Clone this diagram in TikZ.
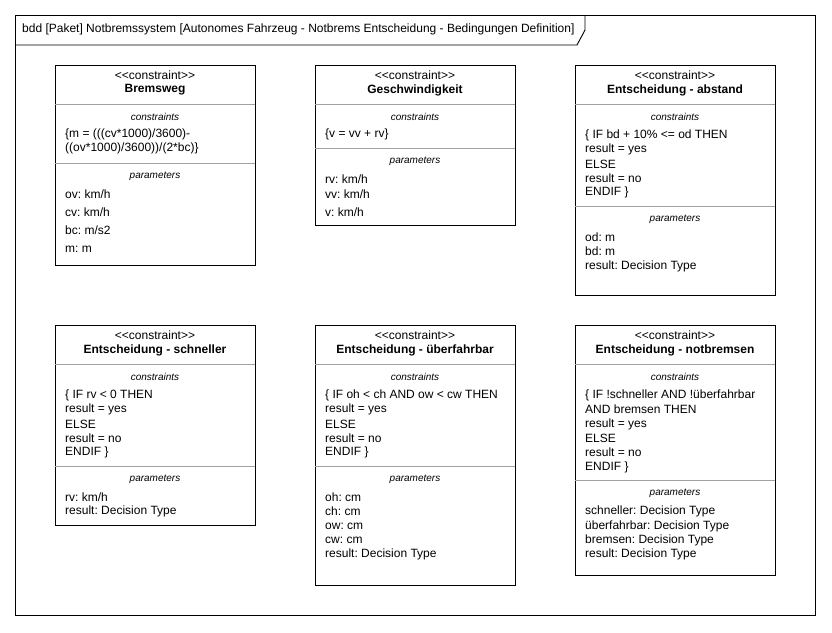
\documentclass[tikz,border=0pt]{standalone}
\usepackage{fontspec}
\setmainfont{Liberation Sans}
\frenchspacing
\begin{document}
\begin{tikzpicture}[x=1pt,y=-1pt,
  frame/.style={draw=black,line width=0.9pt},
  cbox/.style={draw=black,line width=0.9pt},
  divider/.style={draw=black!37,line width=0.9pt},
  txt/.style={anchor=west,inner sep=0pt,font=\fontsize{12}{14}\selectfont},
  stereo/.style={anchor=center,inner sep=0pt,font=\fontsize{12}{14}\selectfont},
  cname/.style={anchor=center,inner sep=0pt,font=\fontsize{12}{14}\selectfont\bfseries},
  sect/.style={anchor=center,inner sep=0pt,font=\fontsize{10}{12}\selectfont\itshape}]
\useasboundingbox (0,0) rectangle (832,632);
\fill[white] (0,0) rectangle (832,632);

% diagram frame with its name tab
\draw[frame] (15,15) rectangle (815,615);
\draw[frame] (15,45) -- (577,45) -- (585,30) -- (585,15);
\node[txt] (title) at (22,29) {bdd [Paket] Notbremssystem [Autonomes Fahrzeug - Notbrems Entscheidung - Bedingungen Definition]};

% ---------- Bremsweg ----------
\draw[cbox] (55,65) rectangle (255,265);
\draw[divider] (55,104) -- (255,104);
\draw[divider] (55,163) -- (255,163);
\node[stereo] (a0) at (155,75) {<{}<constraint>{}>};
\node[cname] (a1) at (155,90) {Bremsweg};
\node[sect] (a2) at (155,117) {constraints};
\node[txt] (a3) at (65,134) {\{m = (((cv*1000)/3600)-};
\node[txt] (a4) at (65,148) {((ov*1000)/3600))/(2*bc)\}};
\node[sect] (a5) at (155,176) {parameters};
\node[txt] (a6) at (65,194) {ov: km/h};
\node[txt] (a7) at (65,212) {cv: km/h};
\node[txt] (a8) at (65,230) {bc: m/s2};
\node[txt] (a9) at (65,249) {m: m};

% ---------- Geschwindigkeit ----------
\draw[cbox] (315,65) rectangle (515,225);
\draw[divider] (315,104) -- (515,104);
\draw[divider] (315,148) -- (515,148);
\node[stereo] (b0) at (415,75) {<{}<constraint>{}>};
\node[cname] (b1) at (415,90) {Geschwindigkeit};
\node[sect] (b2) at (415,117) {constraints};
\node[txt] (b3) at (325,134) {\{v = vv + rv\}};
\node[sect] (b5) at (415,161) {parameters};
\node[txt] (b6) at (325,179) {rv: km/h};
\node[txt] (b7) at (325,194) {vv: km/h};
\node[txt] (b8) at (325,212) {v: km/h};

% ---------- Entscheidung - abstand ----------
\draw[cbox] (575,65) rectangle (775,295);
\draw[divider] (575,104) -- (775,104);
\draw[divider] (575,206) -- (775,206);
\node[stereo] (c0) at (675,75) {<{}<constraint>{}>};
\node[cname] (c1) at (675,90) {Entscheidung - abstand};
\node[sect] (c2) at (675,117) {constraints};
\node[txt] (c3) at (585,135) {\{ IF bd + 10\% <= od THEN};
\node[txt] (c4) at (585,149) {result = yes};
\node[txt] (c5) at (585,164) {ELSE};
\node[txt] (c6) at (585,178) {result = no};
\node[txt] (c7) at (585,192) {ENDIF \}};
\node[sect] (c8) at (675,219) {parameters};
\node[txt] (c9) at (585,237) {od: m};
\node[txt] (c10) at (585,251) {bd: m};
\node[txt] (c11) at (585,266) {result: Decision Type};

% ---------- Entscheidung - schneller ----------
\draw[cbox] (55,325) rectangle (255,525);
\draw[divider] (55,364) -- (255,364);
\draw[divider] (55,466) -- (255,466);
\node[stereo] (d0) at (155,335) {<{}<constraint>{}>};
\node[cname] (d1) at (155,350) {Entscheidung - schneller};
\node[sect] (d2) at (155,377) {constraints};
\node[txt] (d3) at (65,395) {\{ IF rv < 0 THEN};
\node[txt] (d4) at (65,409) {result = yes};
\node[txt] (d5) at (65,424) {ELSE};
\node[txt] (d6) at (65,438) {result = no};
\node[txt] (d7) at (65,452) {ENDIF \}};
\node[sect] (d8) at (155,479) {parameters};
\node[txt] (d9) at (65,497) {rv: km/h};
\node[txt] (d10) at (65,511) {result: Decision Type};

% ---------- Entscheidung - überfahrbar ----------
\draw[cbox] (315,325) rectangle (515,585);
\draw[divider] (315,364) -- (515,364);
\draw[divider] (315,466) -- (515,466);
\node[stereo] (e0) at (415,335) {<{}<constraint>{}>};
\node[cname] (e1) at (415,350) {Entscheidung - überfahrbar};
\node[sect] (e2) at (415,377) {constraints};
\node[txt] (e3) at (325,395) {\{ IF oh < ch AND ow < cw THEN};
\node[txt] (e4) at (325,409) {result = yes};
\node[txt] (e5) at (325,424) {ELSE};
\node[txt] (e6) at (325,438) {result = no};
\node[txt] (e7) at (325,452) {ENDIF \}};
\node[sect] (e8) at (415,479) {parameters};
\node[txt] (e9) at (325,497) {oh: cm};
\node[txt] (e10) at (325,511) {ch: cm};
\node[txt] (e11) at (325,526) {ow: cm};
\node[txt] (e12) at (325,540) {cw: cm};
\node[txt] (e13) at (325,554) {result: Decision Type};

% ---------- Entscheidung - notbremsen ----------
\draw[cbox] (575,325) rectangle (775,575);
\draw[divider] (575,364) -- (775,364);
\draw[divider] (575,480) -- (775,480);
\node[stereo] (f0) at (675,335) {<{}<constraint>{}>};
\node[cname] (f1) at (675,350) {Entscheidung - notbremsen};
\node[sect] (f2) at (675,377) {constraints};
\node[txt] (f3) at (585,395) {\{ IF !schneller AND !überfahrbar};
\node[txt] (f4) at (585,409) {AND bremsen THEN};
\node[txt] (f5) at (585,424) {result = yes};
\node[txt] (f6) at (585,438) {ELSE};
\node[txt] (f7) at (585,452) {result = no};
\node[txt] (f8) at (585,467) {ENDIF \}};
\node[sect] (f9) at (675,493) {parameters};
\node[txt] (f10) at (585,511) {schneller: Decision Type};
\node[txt] (f11) at (585,526) {überfahrbar: Decision Type};
\node[txt] (f12) at (585,540) {bremsen: Decision Type};
\node[txt] (f13) at (585,554) {result: Decision Type};
\end{tikzpicture}
\end{document}
